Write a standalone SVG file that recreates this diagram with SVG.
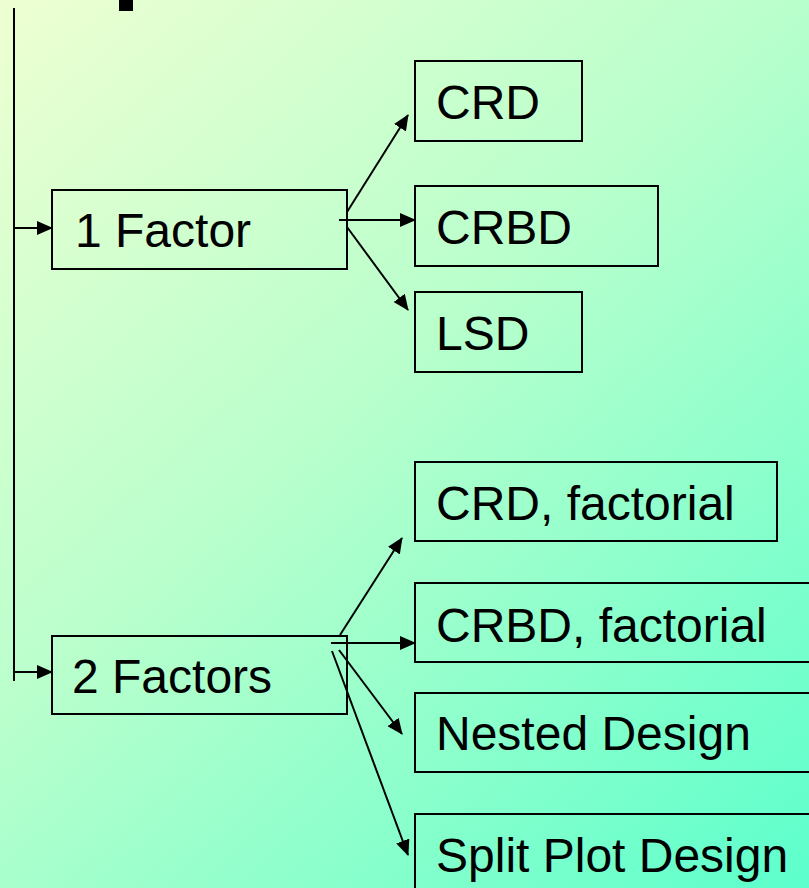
<svg xmlns="http://www.w3.org/2000/svg" width="809" height="888" viewBox="0 0 809 888">
  <defs>
    <linearGradient id="bg" gradientUnits="userSpaceOnUse" x1="0" y1="0" x2="809" y2="888">
      <stop offset="0" stop-color="#eeffd2"/>
      <stop offset="0.45" stop-color="#b8ffcc"/>
      <stop offset="1" stop-color="#5cffcc"/>
    </linearGradient>
    <marker id="arrow" viewBox="0 0 16 14" refX="15" refY="7" markerWidth="16" markerHeight="14" markerUnits="userSpaceOnUse" orient="auto">
      <path d="M0,0 L16,7 L0,14 Z" fill="#000"/>
    </marker>
    <style>
      .box { fill: none; stroke: #000; stroke-width: 2; }
      .lbl { font-family: "Liberation Sans", Arial, sans-serif; font-size: 48px; fill: #000; }
      .wire { fill: none; stroke: #000; stroke-width: 2; }
      .arr { fill: none; stroke: #000; stroke-width: 2; marker-end: url(#arrow); }
    </style>
  </defs>

  <rect x="0" y="0" width="809" height="888" fill="url(#bg)"/>

  <!-- stem of the heading glyph cut by the top edge -->
  <rect x="119" y="0" width="14" height="11" fill="#000"/>

  <g id="connectors">
    <line class="wire" x1="14" y1="8" x2="14" y2="681"/>
    <line class="arr" x1="14" y1="228" x2="52" y2="228"/>
    <line class="arr" x1="14" y1="672" x2="52" y2="672"/>

    <line class="arr" x1="347" y1="212" x2="408" y2="115"/>
    <line class="arr" x1="339" y1="220" x2="415" y2="220"/>
    <line class="arr" x1="347" y1="227" x2="408" y2="310"/>

    <line class="arr" x1="340" y1="635" x2="402" y2="538"/>
    <line class="arr" x1="331" y1="643" x2="415" y2="643"/>
    <line class="arr" x1="339" y1="650" x2="402" y2="734"/>
    <line class="arr" x1="332" y1="651" x2="408" y2="855"/>
  </g>

  <g id="factor1">
    <rect class="box" x="52" y="190" width="295" height="79"/>
    <text class="lbl" x="75" y="247">1 Factor</text>
  </g>
  <g id="crd">
    <rect class="box" x="415" y="61" width="167" height="80"/>
    <text class="lbl" x="436" y="119">CRD</text>
  </g>
  <g id="crbd">
    <rect class="box" x="415" y="186" width="243" height="80"/>
    <text class="lbl" x="436" y="244">CRBD</text>
  </g>
  <g id="lsd">
    <rect class="box" x="415" y="292" width="167" height="80"/>
    <text class="lbl" x="436" y="350">LSD</text>
  </g>

  <g id="factor2">
    <rect class="box" x="52" y="636" width="295" height="78"/>
    <text class="lbl" x="72" y="693">2 Factors</text>
  </g>
  <g id="crd-factorial">
    <rect class="box" x="415" y="462" width="362" height="79"/>
    <text class="lbl" x="436" y="520">CRD, factorial</text>
  </g>
  <g id="crbd-factorial">
    <rect class="box" x="415" y="583" width="400" height="79"/>
    <text class="lbl" x="436" y="642">CRBD, factorial</text>
  </g>
  <g id="nested">
    <rect class="box" x="415" y="693" width="400" height="79"/>
    <text class="lbl" x="436" y="750">Nested Design</text>
  </g>
  <g id="split-plot">
    <rect class="box" x="415" y="814" width="400" height="90"/>
    <text class="lbl" x="436" y="872">Split Plot Design</text>
  </g>
</svg>
